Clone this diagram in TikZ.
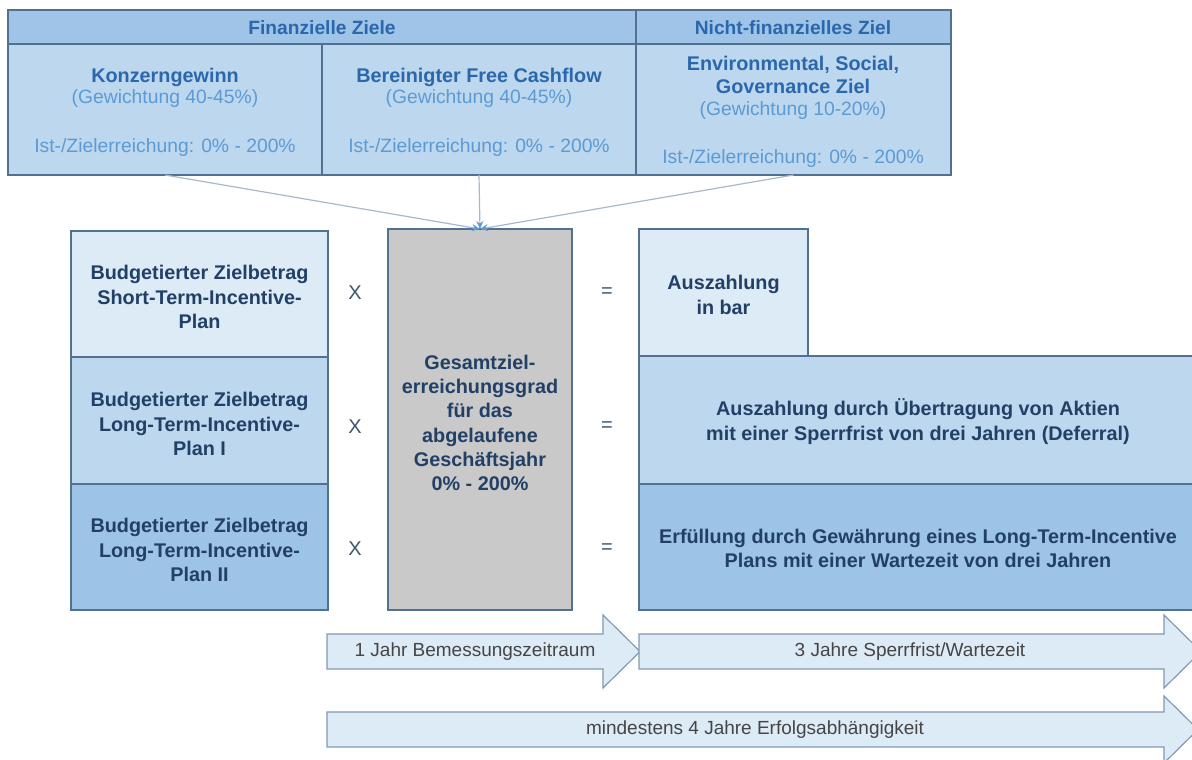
\documentclass[tikz,border=0pt]{standalone}
\usepackage{fontspec}
\setmainfont{Liberation Sans}
\usetikzlibrary{arrows.meta}
\definecolor{hdrfill}{HTML}{9FC4E7}
\definecolor{cellfill}{HTML}{BDD7EE}
\definecolor{lightfill}{HTML}{DDEBF7}
\definecolor{midfill}{HTML}{BDD7EE}
\definecolor{darkfill}{HTML}{9DC3E6}
\definecolor{grayfill}{HTML}{C9C9C9}
\definecolor{edgecol}{HTML}{52708F}
\definecolor{bluetxt}{HTML}{2A67AC}
\definecolor{lighttxt}{HTML}{5B9BD5}
\definecolor{navytxt}{HTML}{223F66}
\definecolor{opcol}{HTML}{3E5470}
\definecolor{arrfill}{HTML}{DDEBF7}
\definecolor{arredge}{HTML}{8199B3}
\definecolor{arrtxt}{HTML}{454545}
\definecolor{conncol}{HTML}{A9B8C8}
\definecolor{tipcol}{HTML}{5B9BD5}
\tikzset{
  cellbox/.style={draw=edgecol, line width=1.3pt, anchor=north west, inner sep=0pt, outer sep=0pt},
  bigbold/.style={font=\fontsize{19.8}{24.3}\selectfont\bfseries, align=center},
  hdrtxt/.style={font=\fontsize{19.2}{23}\selectfont\bfseries, text=bluetxt, align=center},
  titletxt/.style={font=\fontsize{19.8}{23.5}\selectfont\bfseries, text=bluetxt, align=center},
  regtxt/.style={font=\fontsize{19.3}{23}\selectfont, text=lighttxt, align=center},
  optxt/.style={font=\fontsize{20}{24}\selectfont, text=opcol},
  conn/.style={draw=conncol, line width=1.2pt, -{Stealth[length=8pt,width=7pt,color=tipcol]}},
  timearrow/.style={fill=arrfill, draw=arredge, line width=1.2pt, line join=miter},
  arrlabel/.style={font=\fontsize{19}{22}\selectfont, text=arrtxt}
}
\begin{document}
\begin{tikzpicture}[x=1pt,y=-1pt]
\useasboundingbox (0,0) rectangle (1192,760);

% top table
\node[cellbox, fill=hdrfill, minimum width=628pt, minimum height=34pt] (h1) at (8,10) {};
\node[cellbox, fill=hdrfill, minimum width=315pt, minimum height=34pt] (h2) at (636,10) {};
\node[cellbox, fill=cellfill, minimum width=314pt, minimum height=131pt] (c1) at (8,44) {};
\node[cellbox, fill=cellfill, minimum width=314pt, minimum height=131pt] (c2) at (322,44) {};
\node[cellbox, fill=cellfill, minimum width=315pt, minimum height=131pt] (c3) at (636,44) {};

\node[hdrtxt] (h1t) at (322,28) {Finanzielle Ziele};
\node[hdrtxt] (h2t) at (793,28) {Nicht-finanzielles Ziel};

\node[titletxt] (c1t) at (165,77) {Konzerngewinn};
\node[regtxt] (c1w) at (165,99) {(Gewichtung 40-45\%)};
\node[regtxt] (c1i) at (165,148) {Ist-/Zielerreichung: 0\% - 200\%};

\node[titletxt] (c2t) at (479,77) {Bereinigter Free Cashflow};
\node[regtxt] (c2w) at (479,99) {(Gewichtung 40-45\%)};
\node[regtxt] (c2i) at (479,148) {Ist-/Zielerreichung: 0\% - 200\%};

\node[titletxt] (c3t) at (793,75) {Environmental, Social,\\Governance Ziel};
\node[regtxt] (c3w) at (793,111) {(Gewichtung 10-20\%)};
\node[regtxt] (c3i) at (793,159) {Ist-/Zielerreichung: 0\% - 200\%};

% left column
\node[cellbox, fill=lightfill, minimum width=257pt, minimum height=126pt] (b1) at (71,231) {};
\node[cellbox, fill=midfill, minimum width=257pt, minimum height=127pt] (b2) at (71,357) {};
\node[cellbox, fill=darkfill, minimum width=257pt, minimum height=126pt] (b3) at (71,484) {};
\node[bigbold, text=navytxt] (b1t) at (199.5,297) {Budgetierter Zielbetrag\\Short-Term-Incentive-\\Plan};
\node[bigbold, text=navytxt] (b2t) at (199.5,424) {Budgetierter Zielbetrag\\Long-Term-Incentive-\\Plan I};
\node[bigbold, text=navytxt] (b3t) at (199.5,550) {Budgetierter Zielbetrag\\Long-Term-Incentive-\\Plan II};

% operators
\node[optxt] (x1) at (355,293) {X};
\node[optxt] (x2) at (355,427) {X};
\node[optxt] (x3) at (355,549) {X};
\node[optxt] (e1) at (607,293) {=};
\node[optxt] (e2) at (607,427) {=};
\node[optxt] (e3) at (607,549) {=};

% gray box
\node[cellbox, fill=grayfill, minimum width=184pt, minimum height=381pt] (gz) at (388,229) {};
\node[bigbold, text=navytxt] (gzt) at (480,423) {Gesamtziel-\\erreichungsgrad\\f\"ur das\\abgelaufene\\Gesch\"aftsjahr\\0\% - 200\%};

% right column
\node[cellbox, fill=lightfill, minimum width=169pt, minimum height=127pt] (r1) at (639,229) {};
\node[cellbox, fill=midfill, minimum width=570pt, minimum height=128pt] (r2) at (639,356) {};
\node[cellbox, fill=darkfill, minimum width=570pt, minimum height=126pt] (r3) at (639,484) {};
\node[bigbold, text=navytxt] (r1t) at (723.5,295) {Auszahlung\\in bar};
\node[bigbold, text=navytxt] (r2t) at (918,421.5) {Auszahlung durch \"Ubertragung von Aktien\\mit einer Sperrfrist von drei Jahren (Deferral)};
\node[bigbold, text=navytxt] (r3t) at (918,548.5) {Erf\"ullung durch Gew\"ahrung eines Long-Term-Incentive\\Plans mit einer Wartezeit von drei Jahren};

% connectors
\draw[conn] (c1.south) -- (gz.north);
\draw[conn] (c2.south) -- (gz.north);
\draw[conn] (c3.south) -- (gz.north);

% time arrows
\draw[timearrow] (327,634) -- (603,634) -- (603,615) -- (640,651.5) -- (603,688) -- (603,669) -- (327,669) -- cycle;
\node[arrlabel] (a1) at (475,651.5) {1 Jahr Bemessungszeitraum};
\draw[timearrow] (639,634) -- (1164,634) -- (1164,615) -- (1201,651.5) -- (1164,688) -- (1164,669) -- (639,669) -- cycle;
\node[arrlabel] (a2) at (910,651.5) {3 Jahre Sperrfrist/Wartezeit};
\draw[timearrow] (327,712) -- (1164,712) -- (1164,696) -- (1198,729.5) -- (1164,763) -- (1164,747) -- (327,747) -- cycle;
\node[arrlabel] (a3) at (755,729.5) {mindestens 4 Jahre Erfolgsabh\"angigkeit};
\end{tikzpicture}
\end{document}
